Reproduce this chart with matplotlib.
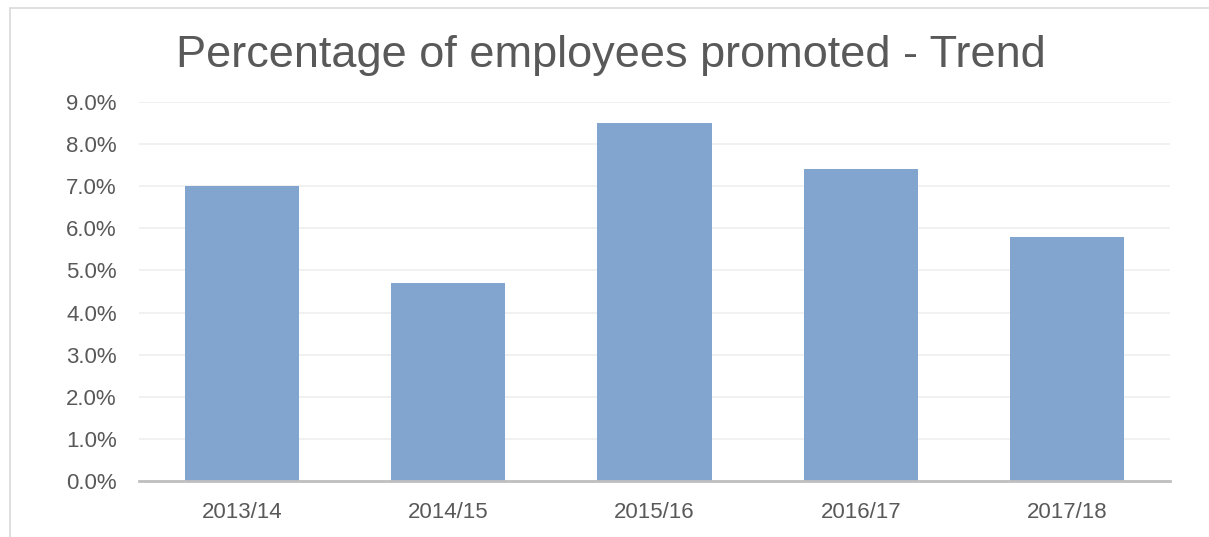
import matplotlib
matplotlib.use("Agg")
import matplotlib.pyplot as plt
from matplotlib.patches import Rectangle
from matplotlib.ticker import FuncFormatter

plt.rcParams["font.family"] = ["Liberation Sans", "DejaVu Sans"]

# ── Data ──────────────────────────────────────────────────────────────────────
years = ["2013/14", "2014/15", "2015/16", "2016/17", "2017/18"]
promoted_pct = [7.0, 4.7, 8.5, 7.4, 5.8]
y_ticks = [0, 1, 2, 3, 4, 5, 6, 7, 8, 9]

# ── Figure ────────────────────────────────────────────────────────────────────
fig = plt.figure(figsize=(12.09, 5.37), dpi=100)
fig.patches.append(Rectangle((10 / 1209, -0.1), 1.2, 1 - 8 / 537 + 0.1,
                             transform=fig.transFigure, fill=False,
                             edgecolor="#D9D9D9", linewidth=1.2))

ax = fig.add_axes([139 / 1209, 1 - 481 / 537, (1170 - 139) / 1209, (481 - 102) / 537])
ax.bar(range(len(years)), promoted_pct, width=0.553, color="#82A5CF", zorder=2)

ax.set_xlim(-0.5, len(years) - 0.5)
ax.set_ylim(0, 9)
ax.set_yticks(y_ticks)
ax.yaxis.set_major_formatter(FuncFormatter(lambda v, _: f"{v:.1f}%"))
ax.set_xticks(range(len(years)))
ax.set_xticklabels(years)
ax.tick_params(axis="both", length=0, labelsize=16, labelcolor="#595959")
ax.tick_params(axis="y", pad=16)
ax.tick_params(axis="x", pad=15)
ax.grid(axis="y", color="#EFEFEF", linewidth=1.2, zorder=0)

for side in ("top", "right", "left"):
    ax.spines[side].set_visible(False)
ax.spines["bottom"].set_color("#BFBFBF")
ax.spines["bottom"].set_linewidth(2)
ax.spines["bottom"].set_zorder(3)

fig.text(611 / 1209, 1 - 55 / 537, "Percentage of employees promoted - Trend",
         ha="center", va="center", fontsize=32.5, color="#595959")

fig.savefig("out.png", dpi=100)
